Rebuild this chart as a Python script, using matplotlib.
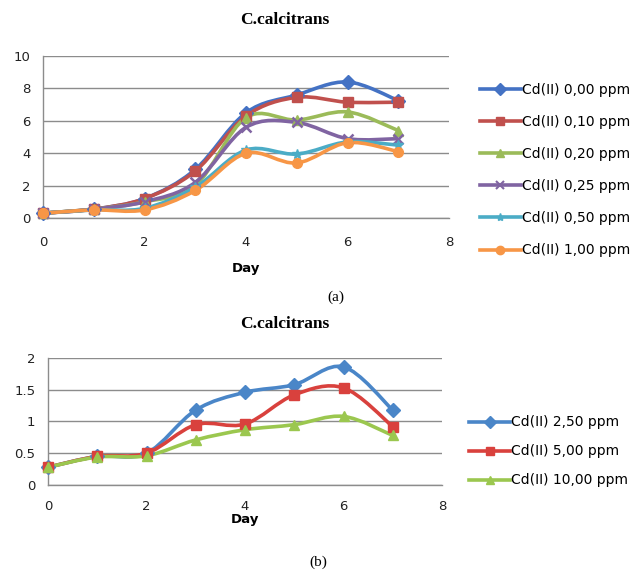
import matplotlib
matplotlib.use("Agg")
import matplotlib.pyplot as plt
import numpy as np
from matplotlib.path import Path
from matplotlib.patches import PathPatch
from matplotlib.lines import Line2D

days = [0, 1, 2, 3, 4, 5, 6, 7]

labels_a = ["Cd(II) 0,00 ppm", "Cd(II) 0,10 ppm", "Cd(II) 0,20 ppm",
            "Cd(II) 0,25 ppm", "Cd(II) 0,50 ppm", "Cd(II) 1,00 ppm"]
cd_000 = [0.30, 0.55, 1.20, 3.00, 6.50, 7.60, 8.40, 7.25]
cd_010 = [0.30, 0.55, 1.20, 2.90, 6.30, 7.45, 7.15, 7.15]
cd_020 = [0.30, 0.55, 1.00, 2.00, 6.20, 6.05, 6.55, 5.40]
cd_025 = [0.30, 0.55, 1.00, 2.20, 5.60, 5.90, 4.90, 4.90]
cd_050 = [0.30, 0.50, 0.60, 1.90, 4.20, 3.95, 4.70, 4.50]
cd_100 = [0.30, 0.50, 0.50, 1.70, 4.00, 3.40, 4.65, 4.10]
series_a = [cd_000, cd_010, cd_020, cd_025, cd_050, cd_100]
colors_a = ["#4472C4", "#C0504D", "#9BBB59", "#8064A2", "#4BACC6", "#F79646"]
markers_a = ["D", "s", "^", "x", "*", "o"]

labels_b = ["Cd(II) 2,50 ppm", "Cd(II) 5,00 ppm", "Cd(II) 10,00 ppm"]
cd_250 = [0.28, 0.45, 0.50, 1.18, 1.46, 1.58, 1.86, 1.18]
cd_500 = [0.28, 0.45, 0.50, 0.95, 0.96, 1.42, 1.53, 0.92]
cd_1000 = [0.28, 0.44, 0.46, 0.71, 0.87, 0.95, 1.08, 0.78]
series_b = [cd_250, cd_500, cd_1000]
colors_b = ["#4A86C8", "#D9413D", "#9BC74F"]
markers_b = ["D", "s", "^"]


def smooth_path(x, y):
    x = np.asarray(x, float)
    y = np.asarray(y, float)
    pts = np.column_stack([x, y])
    n = len(pts)
    verts = [pts[0]]
    codes = [Path.MOVETO]
    for i in range(n - 1):
        p0 = pts[i - 1] if i > 0 else pts[i]
        p1 = pts[i]
        p2 = pts[i + 1]
        p3 = pts[i + 2] if i + 2 < n else pts[i + 1]
        c1 = p1 + (p2 - p0) / 6.0
        c2 = p2 - (p3 - p1) / 6.0
        verts += [c1, c2, p2]
        codes += [Path.CURVE4] * 3
    return Path(verts, codes)


def style_axes(ax, ymax, ystep, fmt, xpad, labelpad):
    ax.set_xlim(0, 8)
    ax.set_ylim(0, ymax)
    ax.set_xticks([0, 2, 4, 6, 8])
    yt = np.arange(0, ymax + 1e-9, ystep)
    ax.set_yticks(yt)
    ax.set_yticklabels([fmt(v) for v in yt])
    for s in ["top", "right"]:
        ax.spines[s].set_visible(False)
    for s in ["left", "bottom"]:
        ax.spines[s].set_color("#8C8C8C")
        ax.spines[s].set_linewidth(1.0)
    ax.yaxis.grid(True, color="#8C8C8C", linewidth=1.0)
    ax.set_axisbelow(True)
    ax.tick_params(axis="both", length=0, labelsize=9.5, colors="#222222")
    ax.tick_params(axis="y", pad=9)
    ax.tick_params(axis="x", pad=xpad)
    ax.set_xlabel("Day", fontsize=9.5, fontweight="bold", labelpad=labelpad)


def draw(ax, series, colors, markers, ms):
    for ys, c, m in zip(series, colors, markers):
        ax.add_patch(PathPatch(smooth_path(days, ys), facecolor="none",
                               edgecolor=c, linewidth=2.6,
                               transform=ax.transData, clip_on=False, zorder=3))
        mew = 1.8 if m in ("x",) else 1.0
        ax.plot(days, ys, linestyle="none", marker=m, color=c, markersize=ms,
                markeredgewidth=mew, markeredgecolor=c, zorder=4, clip_on=False)


fig = plt.figure(figsize=(6.37, 5.73), dpi=100)

# (a)
ax1 = fig.add_axes([0.0675, 0.6195, 0.6375, 0.2827])
style_axes(ax1, 10, 2, lambda v: f"{int(v)}", xpad=13, labelpad=9)
draw(ax1, series_a, colors_a, markers_a, 7)
fig.text(0.447, 0.965, "C.calcitrans", ha="center", va="center",
         fontsize=12.5, fontweight="bold", family="Liberation Serif")
handles_a = [Line2D([0], [0], color=c, lw=2.6, marker=m, markersize=6,
                    markeredgewidth=1.5 if m == "x" else 1.0)
             for c, m in zip(colors_a, markers_a)]
fig.legend(handles_a, labels_a, loc="upper left", bbox_to_anchor=(0.754, 0.855),
           frameon=False, fontsize=10, handlelength=2.9, handletextpad=0.1,
           labelspacing=1.3, borderaxespad=0, borderpad=0)
fig.text(0.527, 0.482, "(a)", ha="center", va="center", fontsize=11,
         family="Liberation Serif")

# (b)
ax2 = fig.add_axes([0.0754, 0.1536, 0.6185, 0.2216])
style_axes(ax2, 2, 0.5, lambda v: f"{v:g}", xpad=11, labelpad=0)
draw(ax2, series_b, colors_b, markers_b, 7)
fig.text(0.447, 0.435, "C.calcitrans", ha="center", va="center",
         fontsize=12.5, fontweight="bold", family="Liberation Serif")
handles_b = [Line2D([0], [0], color=c, lw=2.6, marker=m, markersize=6)
             for c, m in zip(colors_b, markers_b)]
fig.legend(handles_b, labels_b, loc="upper left", bbox_to_anchor=(0.737, 0.275),
           frameon=False, fontsize=10, handlelength=2.9, handletextpad=0.1,
           labelspacing=1.08, borderaxespad=0, borderpad=0)
fig.text(0.5, 0.019, "(b)", ha="center", va="center", fontsize=11,
         family="Liberation Serif")

fig.savefig("out.png", dpi=100)
